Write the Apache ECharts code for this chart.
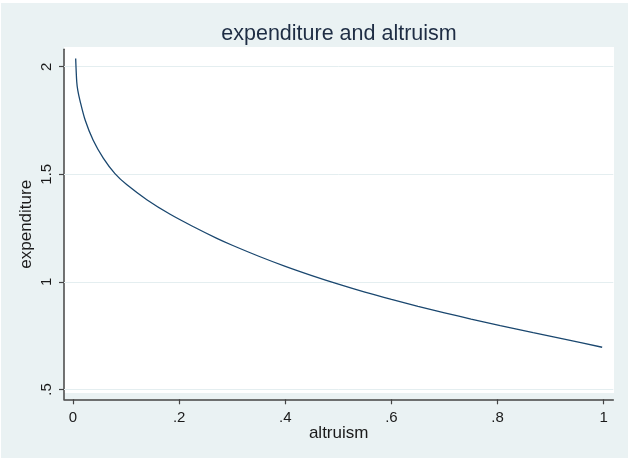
<!DOCTYPE html>
<html>
<head>
<meta charset="utf-8">
<script src="https://cdn.jsdelivr.net/npm/echarts@6/dist/echarts.min.js"></script>
<style>
  html, body { margin: 0; padding: 0; background: #ffffff; }
  #chart { position: absolute; left: 1px; top: 3px; width: 627px; height: 455px; }
</style>
</head>
<body>
<div id="chart"></div>
<script>
// altruism (x) and expenditure (y) along the curve
const altruism = [0.005, 0.007, 0.009, 0.013, 0.023, 0.038, 0.057, 0.079, 0.101, 0.139,
                  0.183, 0.227, 0.271, 0.30, 0.35, 0.40, 0.45, 0.50, 0.55, 0.60,
                  0.65, 0.70, 0.75, 0.805, 0.867, 0.930, 0.997];
const expenditure = [2.038, 1.930, 1.890, 1.844, 1.751, 1.658, 1.575, 1.503, 1.452, 1.382,
                     1.314, 1.256, 1.202, 1.170, 1.119, 1.072, 1.029, 0.989, 0.952, 0.918,
                     0.886, 0.856, 0.827, 0.797, 0.764, 0.731, 0.696];
const xTicks = [0, 0.2, 0.4, 0.6, 0.8, 1];
const yTicks = [0.5, 1, 1.5, 2];

const FONT = "'Liberation Sans', Arial, sans-serif";
const stataNum = v => String(+v.toFixed(3)).replace(/^0\./, '.');

const chart = echarts.init(document.getElementById('chart'), null, { renderer: 'canvas' });
chart.setOption({
  backgroundColor: '#EAF2F3',
  animation: false,
  title: {
    text: 'expenditure and altruism',
    left: 333, top: 15, textAlign: 'center',
    textStyle: { fontFamily: FONT, fontSize: 21.5, fontWeight: 'normal', color: '#1e2d44' }
  },
  graphic: [{
    type: 'rect', z: -1,
    shape: { x: 63, y: 44, width: 550, height: 346 },
    style: { fill: '#ffffff' }
  }],
  grid: { left: 63, right: 14.7, top: 46.3, bottom: 58.7 },
  xAxis: {
    type: 'value', min: -0.017, max: 1.018,
    name: 'altruism', nameLocation: 'middle', nameGap: 26, nameMoveOverlap: false,
    nameTextStyle: { fontFamily: FONT, fontSize: 17, color: '#1a1a1a' },
    axisLine: { onZero: false, lineStyle: { color: '#444', width: 1.5 } },
    axisTick: { show: true, length: 5, customValues: xTicks, lineStyle: { color: '#444', width: 1.2 } },
    axisLabel: { customValues: xTicks, formatter: stataNum, margin: 11,
                 fontFamily: FONT, fontSize: 15, color: '#1a1a1a' },
    splitLine: { show: false }
  },
  yAxis: {
    type: 'value', min: 0.454, max: 2.081,
    name: 'expenditure', nameLocation: 'middle', nameGap: 29, nameRotate: 90, nameMoveOverlap: false,
    nameTextStyle: { fontFamily: FONT, fontSize: 17, color: '#1a1a1a' },
    axisLine: { show: true, onZero: false, lineStyle: { color: '#444', width: 1.5 } },
    axisTick: { show: true, length: 5, customValues: yTicks, lineStyle: { color: '#444', width: 1.2 } },
    axisLabel: { customValues: yTicks, formatter: stataNum, rotate: 90, margin: 10,
                 fontFamily: FONT, fontSize: 15, color: '#1a1a1a' },
    splitLine: { show: false }
  },
  series: [{
    // horizontal grid lines at the labelled y ticks, kept beneath the curve
    type: 'line', data: [], z: 1, silent: true,
    markLine: {
      z: 1, silent: true, symbol: 'none', label: { show: false },
      lineStyle: { color: '#e4eef0', width: 1, type: 'solid' },
      data: yTicks.map(v => ({ yAxis: v }))
    }
  }, {
    type: 'line', z: 3,
    data: altruism.map((x, i) => [x, expenditure[i]]),
    showSymbol: false,
    smooth: 0.3,
    lineStyle: { color: '#1a476f', width: 1.3 }
  }]
});
</script>
</body>
</html>
